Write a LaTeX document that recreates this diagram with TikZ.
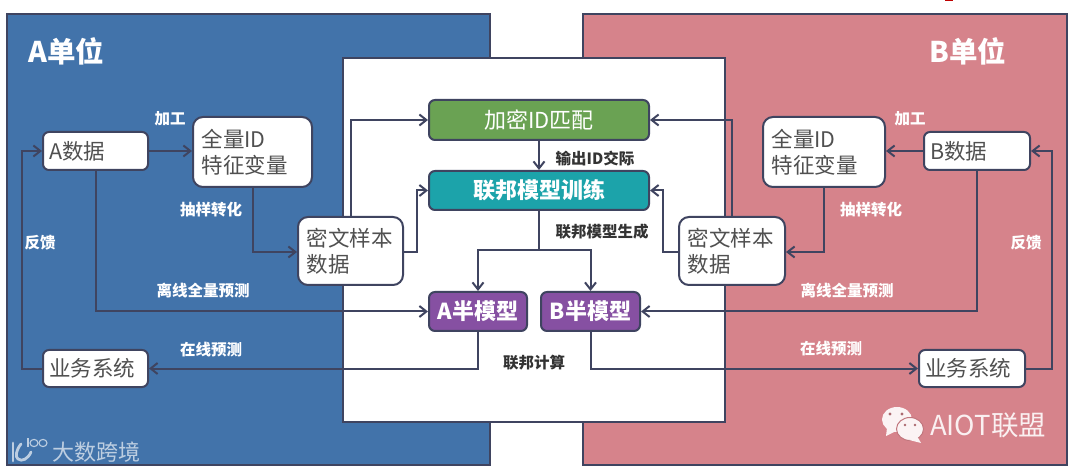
\documentclass[tikz,border=0pt]{standalone}
\usepackage{fontspec}
\setmainfont{Noto Sans CJK SC}
\usetikzlibrary{arrows.meta}
\definecolor{lineC}{HTML}{3F4460}
\definecolor{panelA}{HTML}{4273AA}
\definecolor{panelB}{HTML}{D6838B}
\definecolor{greenC}{HTML}{6AA253}
\definecolor{tealC}{HTML}{1CA3AA}
\definecolor{purpleC}{HTML}{8650A2}
\definecolor{txtC}{HTML}{505050}
\tikzset{
  x=1pt,y=-1pt,
  panel/.style={draw=lineC,line width=1.4pt},
  wbox/.style={draw=lineC,line width=2pt,fill=white,rounded corners=6pt,inner sep=0pt,text=txtC,font=\fontsize{21.5}{26}\selectfont,align=left},
  tallbox/.style={wbox,rounded corners=10pt},
  cbox/.style={draw=lineC,line width=2pt,rounded corners=6pt,inner sep=0pt,text=white,font=\fontsize{22}{26}\selectfont,align=center},
  boldbox/.style={cbox,font=\fontsize{22}{26}\selectfont\bfseries},
  conn/.style={draw=lineC,line width=2pt,-{Straight Barb[length=7pt,width=11pt,line width=2pt]}},
  plainc/.style={draw=lineC,line width=2pt},
  wlab/.style={text=white,font=\fontsize{15.5}{17}\selectfont\bfseries,inner sep=0pt},
  dlab/.style={text=black!80,font=\fontsize{15.5}{17}\selectfont\bfseries,inner sep=0pt},
  title/.style={text=white,font=\fontsize{28.5}{30}\selectfont\bfseries,inner sep=0pt},
}
\newcommand{\bx}[7]{\node[#1,minimum width=#5-#3,minimum height=#6-#4,text width=#5-#3-12pt] (#2) at ({(#3+#5)/2},{(#4+#6)/2}) {#7};}
\newcommand{\cx}[7]{\node[#1,minimum width=#5-#3,minimum height=#6-#4] (#2) at ({(#3+#5)/2},{(#4+#6)/2}) {#7};}
\newcommand{\ind}{\hspace*{2.5pt}}
\begin{document}
\begin{tikzpicture}
\useasboundingbox (0,0) rectangle (1080,473);
\fill[white] (0,0) rectangle (1080,473);
% panels
\draw[panel,fill=panelA] (7,14) rectangle (490,465);
\draw[panel,fill=panelB] (583,14) rectangle (1067,465);
\draw[panel,fill=white] (343,58) rectangle (725,422);
\fill[red!75!black] (945,0) rectangle (953,1.5);
% titles
\node[title,anchor=west] (ta) at (28,51) {A单位};
\node[title,anchor=west] (tb) at (929,51) {B单位};
% nodes
\bx{wbox}{adata}{43}{132}{148}{170}{A数据}
\bx{tallbox}{afeat}{193}{117}{312}{187}{\ind 全量ID\\\ind 特征变量}
\bx{tallbox}{acipher}{298}{217}{403}{285}{\ind 密文样本\\\ind 数据}
\bx{wbox}{asys}{43}{350}{148}{387}{业务系统}
\bx{wbox}{bdata}{924}{132}{1030}{170}{B数据}
\bx{tallbox}{bfeat}{763}{117}{885}{187}{\ind 全量ID\\\ind 特征变量}
\bx{tallbox}{bcipher}{679}{217}{785}{285}{\ind 密文样本\\\ind 数据}
\bx{wbox}{bsys}{919}{350}{1025}{387}{业务系统}
\cx{cbox,fill=greenC}{match}{429}{100}{649}{140}{加密ID匹配}
\cx{boldbox,fill=tealC}{train}{429}{171}{649}{210}{联邦模型训练}
\cx{boldbox,fill=purpleC}{ahalf}{429}{292}{527}{331}{A半模型}
\cx{boldbox,fill=purpleC}{bhalf}{541}{292}{640}{331}{B半模型}
% connector junction coordinates
\coordinate (ja) at (22,151);
\coordinate (jb) at (1052,151);
% A side
\draw[conn] (adata) -- (afeat.west |- adata);
\draw[conn] (afeat.south) |- ([yshift=-1pt]acipher.west);
\draw[conn] (asys.west) -- (ja |- asys) -- (ja) -- (adata.west);
\draw[conn] (adata.south) |- (ahalf.west);
\draw[conn] (ahalf.south) |- (asys.east);
\draw[conn] (acipher.north) |- (match.west);
\draw[conn] ([yshift=-1pt]acipher.east) -- ++(13,0) |- (train.west);
% B side
\draw[conn] (bdata) -- (bfeat.east |- bdata);
\draw[conn] (bfeat.south) |- ([yshift=-1pt]bcipher.east);
\draw[conn] (bsys.east) -- (jb |- bsys) -- (jb) -- (bdata.east);
\draw[conn] (bdata.south) |- (bhalf.east);
\draw[conn] (bhalf.south) |- (bsys.west);
\draw[conn] (bcipher.north) |- (match.east);
\draw[conn] ([yshift=-1pt]bcipher.west) -- ++(-15,0) |- (train.east);
% centre
\draw[conn] (match.south) -- (train.north);
\coordinate (split) at (539,250);
\draw[plainc] (train.south -| split) -- (split);
\draw[conn] (split) -| (ahalf.north);
\draw[conn] (split) -| (bhalf.north);
% labels
\node[wlab] (l1) at (170,119) {加工};
\node[wlab] (l2) at (211,210) {抽样转化};
\node[wlab] (l3) at (40,243) {反馈};
\node[wlab] (l4) at (203,291) {离线全量预测};
\node[wlab] (l5) at (211,350) {在线预测};
\node[wlab] (r1) at (910,119) {加工};
\node[wlab] (r2) at (871,210) {抽样转化};
\node[wlab] (r3) at (1026,243) {反馈};
\node[wlab] (r4) at (847,291) {离线全量预测};
\node[wlab] (r5) at (831,349) {在线预测};
\node[dlab] (c1) at (595,159) {输出ID交际};
\node[dlab] (c2) at (602,232) {联邦模型生成};
\node[dlab] (c3) at (534,363) {联邦计算};
% watermarks
\node[text=white!88!panelB,font=\fontsize{27.5}{30}\selectfont,inner sep=0pt,anchor=west] (wm2) at (930,425) {AIOT联盟};
\fill[white!90!panelB] (897,419.5) ellipse (15 and 12.5);
\fill[white!90!panelB] (887,428) -- (886,436) -- (896,431) -- cycle;
\fill[white!90!panelB,draw=panelB!90!black,line width=1pt] (910,429) ellipse (13.5 and 11.5);
\fill[white!90!panelB] (917,436) -- (921,443) -- (909,440) -- cycle;
\fill[panelB!80!black] (890,414) circle (1.6) (902,414) circle (1.6) (905,425) circle (1.4) (915,425) circle (1.4);
\node[text=white!65!panelA,font=\fontsize{22}{24}\selectfont,inner sep=0pt,anchor=west] (wm1) at (52,452) {大数跨境};
\begin{scope}[draw=white!65!panelA,line width=2.8pt,line cap=round]
  \draw (13,443) -- (13,461);
  \draw (31,452) .. controls (28,459) and (22,462) .. (18,459) .. controls (15,457) and (16,450) .. (21,444);
\end{scope}
\begin{scope}[draw=white!65!panelA,line width=1.1pt]
  \draw (28,438) -- (28,447);
  \draw (34,443) ellipse (4 and 3.6);
  \draw (43,443) ellipse (4 and 3.6);
\end{scope}
\end{tikzpicture}
\end{document}
